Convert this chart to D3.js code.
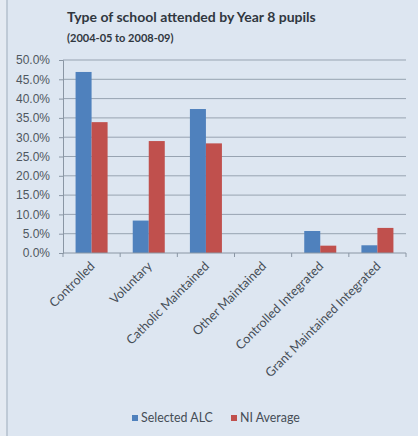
<!DOCTYPE html>
<html>
<head>
<meta charset="utf-8">
<script src="https://cdn.jsdelivr.net/npm/d3@7"></script>
<style>
  html, body { margin: 0; padding: 0; background: #dde6f1; }
  svg { display: block; font-family: Lato, "Open Sans", sans-serif; }
</style>
</head>
<body>
<svg id="chart" width="418" height="436"></svg>
<script>
// School types and the share of Year 8 pupils attending each
const categories = ["Controlled", "Voluntary", "Catholic Maintained", "Other Maintained", "Controlled Integrated", "Grant Maintained Integrated"];
const seriesNames = ["Selected ALC", "NI Average"];
const selectedALC = [46.9, 8.4, 37.3, 0, 5.7, 2.0];
const niAverage = [33.9, 29.0, 28.4, 0, 1.9, 6.5];
const yTicks = [0, 5, 10, 15, 20, 25, 30, 35, 40, 45, 50];
const colors = ["#4f81bd", "#c0504d"];

const svg = d3.select("#chart");

// page frame on the left
svg.append("rect").attr("x", 0).attr("y", 0).attr("width", 7).attr("height", 436).attr("fill", "#e4eaf2");
svg.append("line").attr("x1", 7).attr("x2", 7).attr("y1", 0).attr("y2", 436)
  .attr("stroke", "#b3bfcd").attr("stroke-width", 1.5);

const plot = { left: 63, right: 406, top: 60, bottom: 253 };

const x = d3.scaleBand().domain(categories).range([plot.left, plot.right]).paddingInner(0.44).paddingOuter(0.22);
const xs = d3.scaleBand().domain(seriesNames).range([0, x.bandwidth()]);
const y = d3.scaleLinear().domain([0, 50]).range([plot.bottom, plot.top]);

// gridlines
svg.append("g").selectAll("line").data(yTicks.slice(1)).join("line")
  .attr("x1", plot.left).attr("x2", plot.right)
  .attr("y1", d => y(d)).attr("y2", d => y(d))
  .attr("stroke", "#97a3b1").attr("stroke-width", 1);

// y axis
const yAxis = svg.append("g").attr("transform", `translate(${plot.left},0)`)
  .call(d3.axisLeft(y).tickValues(yTicks).tickFormat(d => d.toFixed(1) + "%").tickSize(4));
yAxis.select(".domain").attr("stroke", "#8a96a4");
yAxis.selectAll(".tick line").attr("stroke", "#8a96a4");
yAxis.selectAll("text").attr("font-size", 12).attr("fill", "#4f5760").attr("x", -13);

// bars
const series = [selectedALC, niAverage];
const groups = svg.append("g").selectAll("g").data(categories).join("g")
  .attr("transform", d => `translate(${x(d)},0)`);
groups.selectAll("rect").data((d, i) => seriesNames.map((s, k) => ({ s, v: series[k][i], k })))
  .join("rect")
  .attr("x", d => xs(d.s))
  .attr("width", xs.bandwidth())
  .attr("y", d => y(d.v))
  .attr("height", d => y(0) - y(d.v))
  .attr("fill", d => colors[d.k]);

// x axis with category boundary ticks
const step = (plot.right - plot.left) / categories.length;
svg.append("line").attr("x1", plot.left).attr("x2", plot.right).attr("y1", plot.bottom).attr("y2", plot.bottom)
  .attr("stroke", "#8a96a4");
svg.append("g").selectAll("line").data(d3.range(categories.length + 1)).join("line")
  .attr("x1", i => plot.left + i * step).attr("x2", i => plot.left + i * step)
  .attr("y1", plot.bottom).attr("y2", plot.bottom + 4)
  .attr("stroke", "#8a96a4");

svg.append("g").selectAll("text").data(categories).join("text")
  .attr("transform", d => `translate(${x(d) + x.bandwidth() / 2 + 4},${plot.bottom + 14}) rotate(-45)`)
  .attr("text-anchor", "end")
  .attr("font-size", 12.6)
  .attr("fill", "#454d56")
  .text(d => d);

// title
svg.append("text").attr("x", 67).attr("y", 22).attr("font-size", 14).attr("font-weight", "bold")
  .attr("fill", "#30373f").text("Type of school attended by Year 8 pupils");
svg.append("text").attr("x", 67).attr("y", 42).attr("font-size", 11).attr("font-weight", "bold")
  .attr("fill", "#30373f").text("(2004-05 to 2008-09)");

// legend
const legend = svg.append("g").selectAll("g").data(seriesNames).join("g")
  .attr("transform", (d, i) => `translate(${[132, 231][i]},422)`);
legend.append("rect").attr("x", 0).attr("y", -7).attr("width", 6).attr("height", 6).attr("fill", (d, i) => colors[i]);
legend.append("text").attr("x", 9).attr("y", 0).attr("font-size", 12.4).attr("fill", "#454d56").text(d => d);
</script>
</body>
</html>
